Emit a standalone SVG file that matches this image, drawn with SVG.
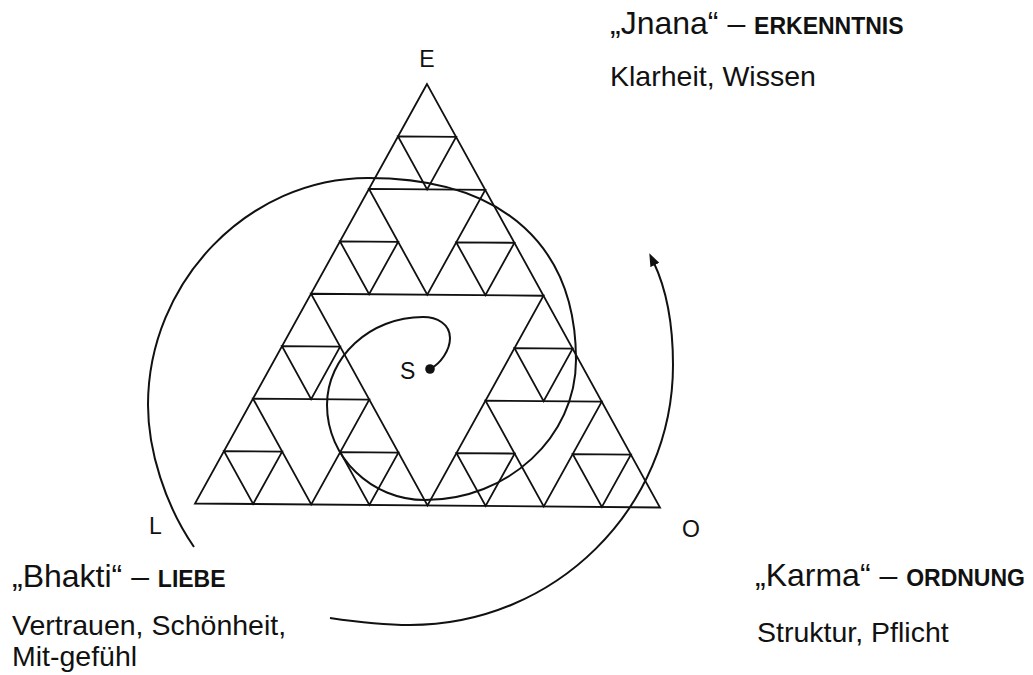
<svg xmlns="http://www.w3.org/2000/svg" width="1033" height="675" viewBox="0 0 1033 675">
<defs>
<style>
.ln{fill:none;stroke:#111;stroke-width:1.8;stroke-linejoin:miter}
.sp{fill:none;stroke:#111;stroke-width:2}
.lbl{font-family:"Liberation Sans",Arial,sans-serif;font-size:23px;fill:#111}
.t{font-family:"Liberation Sans",Arial,sans-serif;font-size:28.5px;fill:#111}
.h{font-family:"Liberation Sans",Arial,sans-serif;font-size:32px;fill:#111}
.b{font-weight:bold;font-size:23px}
</style>
<marker id="arr" markerUnits="userSpaceOnUse" viewBox="0 0 13 10" markerWidth="13" markerHeight="10" refX="3.3" refY="5" orient="auto">
<path d="M0,0 L13,5 L0,10 Z" fill="#111"/>
</marker>
</defs>
<rect width="1033" height="675" fill="#fff"/>
<g id="sierpinski">
<path class="ln" d="M427,84 L195,503.5 L660,507.5 Z"/>
<path class="ln" d="M311,293.75 L543.5,295.75 L427.5,505.5 Z"/>
<path class="ln" d="M369,188.875 L485.25,189.875 L427.25,294.75 Z"/>
<path class="ln" d="M253,398.625 L369.25,399.625 L311.25,504.5 Z"/>
<path class="ln" d="M485.5,400.625 L601.75,401.625 L543.75,506.5 Z"/>
<path class="ln" d="M398,136.4375 L456.125,136.9375 L427.125,189.375 Z"/>
<path class="ln" d="M340,241.3125 L398.125,241.8125 L369.125,294.25 Z"/>
<path class="ln" d="M456.25,242.3125 L514.375,242.8125 L485.375,295.25 Z"/>
<path class="ln" d="M282,346.1875 L340.125,346.6875 L311.125,399.125 Z"/>
<path class="ln" d="M224,451.0625 L282.125,451.5625 L253.125,504 Z"/>
<path class="ln" d="M340.25,452.0625 L398.375,452.5625 L369.375,505 Z"/>
<path class="ln" d="M514.5,348.1875 L572.625,348.6875 L543.625,401.125 Z"/>
<path class="ln" d="M456.5,453.0625 L514.625,453.5625 L485.625,506 Z"/>
<path class="ln" d="M572.75,454.0625 L630.875,454.5625 L601.875,507 Z"/>
</g>
<g id="connectors">
<path class="sp" d="M430,369 C440.7,363.6 450,350 450,338 C450,324 437,317 423,317 C370,317 327,357 327,405 C327,457 371,500 425,500 C508,500 576,437 576,360 C576,250 508,178 368,178 C248,178 148,282 148,405 C148,450 165,505 194,547"/>
<path class="sp" d="M330,618 C357,622 383,625 410,625 C555,625 673,508 673,365 C673,325 666.4,289 653.5,262" marker-end="url(#arr)"/>
</g>
<g id="node-S">
<circle cx="430" cy="369" r="4.8" fill="#111"/>
<text class="lbl" x="400" y="379">S</text>
</g>
<g id="node-E"><text class="lbl" x="427" y="67" text-anchor="middle">E</text></g>
<g id="node-L"><text class="lbl" x="149" y="534">L</text></g>
<g id="node-O"><text class="lbl" x="682" y="537">O</text></g>
<g id="label-jnana">
<text class="h" x="610" y="34">„Jnana“ – <tspan class="b">ERKENNTNIS</tspan></text>
<text class="t" x="610" y="86">Klarheit, Wissen</text>
</g>
<g id="label-bhakti">
<text class="h" x="12" y="587">„Bhakti“ – <tspan class="b">LIEBE</tspan></text>
<text class="t" x="12" y="635">Vertrauen, Schönheit,</text>
<text class="t" x="12" y="666">Mit-gefühl</text>
</g>
<g id="label-karma">
<text class="h" x="755" y="586">„Karma“ – <tspan class="b">ORDNUNG</tspan></text>
<text class="t" x="757" y="642">Struktur, Pflicht</text>
</g>
</svg>
